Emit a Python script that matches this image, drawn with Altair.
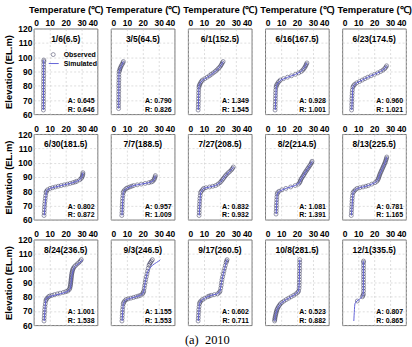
import altair as alt
import pandas as pd

# ---------------- data ----------------
DATES = ["1/6(6.5)", "3/5(64.5)", "6/1(152.5)", "6/16(167.5)", "6/23(174.5)",
         "6/30(181.5)", "7/7(188.5)", "7/27(208.5)", "8/2(214.5)", "8/13(225.5)",
         "8/24(236.5)", "9/3(246.5)", "9/17(260.5)", "10/8(281.5)", "12/1(335.5)"]
A_VALS = ["0.645", "0.790", "1.349", "0.928", "0.960", "0.802", "0.957", "0.832",
          "1.081", "0.781", "1.001", "1.155", "0.602", "0.523", "0.807"]
R_VALS = ["0.646", "0.826", "1.545", "1.001", "1.021", "0.872", "1.009", "0.932",
          "1.391", "1.165", "1.538", "1.553", "0.711", "0.882", "0.865"]
TEMP_TICKS = [0, 10, 20, 30, 40]
ELEV_TICKS = [60, 70, 80, 90, 100, 110, 120]

OBS_ELEV_01 = [63, 65, 67, 69, 71, 73, 75, 77, 79, 81, 83, 85, 87, 89, 91, 93, 95, 97, 98]
OBS_TEMP_01 = [6.0, 6.0, 6.0, 6.1, 6.0, 6.0, 6.1, 6.1, 6.0, 6.1, 6.1, 6.1, 6.2, 6.1, 6.2, 6.2, 6.2, 6.3, 6.3]
SIM_ELEV_01 = [63, 80, 98]
SIM_TEMP_01 = [6.0, 6.1, 6.2]

OBS_ELEV_02 = [64, 66, 68, 70, 72, 74, 76, 78, 80, 82, 84, 86, 88, 90, 91, 92, 93, 94, 95, 96, 97]
OBS_TEMP_02 = [4.8, 4.8, 4.8, 4.8, 4.9, 4.8, 4.9, 4.9, 4.9, 4.9, 5.0, 5.0, 5.0, 5.2, 5.5, 5.7, 6.1, 6.5, 7.0, 7.5, 7.8]
SIM_ELEV_02 = [64, 88, 90, 92, 94, 96, 97]
SIM_TEMP_02 = [4.9, 5.0, 5.2, 5.8, 6.6, 7.4, 7.8]

OBS_ELEV_03 = [63, 65, 67, 69, 71, 73, 75, 77, 79, 80, 81, 82, 83, 84, 85, 86, 87, 88, 89, 90, 91, 92, 93, 94, 95, 96, 97]
OBS_TEMP_03 = [6.3, 6.4, 6.4, 6.5, 6.5, 6.6, 6.6, 6.7, 6.8, 7.0, 7.3, 7.8, 8.3, 9.0, 10.5, 12.0, 13.4, 14.6, 15.8, 17.0, 18.0, 18.9, 19.8, 20.5, 21.0, 21.5, 22.0]
SIM_ELEV_03 = [63, 79, 81, 83, 84, 86, 88, 90, 92, 94, 96, 97]
SIM_TEMP_03 = [6.4, 6.8, 7.2, 8.2, 9.2, 12.2, 14.8, 17.0, 19.0, 20.5, 21.5, 22.0]

OBS_ELEV_04 = [63, 65, 67, 69, 71, 73, 75, 77, 79, 80, 81, 82, 83, 84, 85, 86, 87, 88, 89, 90, 91, 92, 93, 94, 95, 96]
OBS_TEMP_04 = [6.2, 6.3, 6.3, 6.4, 6.4, 6.5, 6.5, 6.6, 6.8, 7.0, 7.4, 8.0, 8.6, 9.5, 11.5, 14.0, 16.5, 19.0, 21.0, 22.6, 23.6, 24.3, 24.9, 25.4, 25.8, 26.2]
SIM_ELEV_04 = [63, 80, 82, 84, 86, 88, 90, 92, 94, 96]
SIM_TEMP_04 = [6.3, 7.0, 8.0, 9.8, 14.2, 19.0, 22.4, 24.2, 25.3, 26.0]

OBS_ELEV_05 = [63, 65, 67, 69, 71, 73, 75, 77, 79, 80, 81, 82, 83, 84, 85, 86, 87, 88, 89, 90, 91, 92, 93, 94]
OBS_TEMP_05 = [5.8, 5.9, 5.9, 6.0, 6.0, 6.1, 6.2, 6.3, 6.6, 7.0, 7.8, 9.0, 10.8, 12.5, 14.2, 16.0, 18.0, 20.2, 22.3, 24.0, 25.5, 26.6, 27.3, 27.8]
SIM_ELEV_05 = [63, 79, 81, 82, 84, 86, 88, 90, 92, 94]
SIM_TEMP_05 = [5.9, 6.6, 7.8, 9.0, 12.5, 16.0, 20.2, 24.0, 26.6, 27.8]

OBS_ELEV_06 = [63, 65, 67, 69, 71, 73, 75, 77, 79, 80, 81, 82, 82.5, 83, 83.5, 84, 84.5, 85, 85.5, 86, 86.5, 87, 88, 89, 90, 91, 92, 93]
OBS_TEMP_06 = [6.4, 6.5, 6.6, 6.7, 6.8, 7.0, 7.2, 7.4, 7.7, 7.9, 8.6, 10.2, 11.8, 13.5, 15.3, 17.2, 19.1, 21.0, 22.8, 24.5, 25.9, 27.0, 28.8, 29.8, 30.3, 30.6, 30.8, 30.8]
SIM_ELEV_06 = [63, 80, 81, 82, 83, 84, 85, 86, 87, 88, 90, 93]
SIM_TEMP_06 = [6.5, 7.9, 8.6, 10.2, 13.5, 17.2, 21.0, 24.5, 27.0, 28.8, 30.3, 30.8]

OBS_ELEV_07 = [63, 65, 67, 69, 71, 73, 75, 77, 79, 80, 81, 82, 82.5, 83, 83.5, 84, 84.5, 85, 85.5, 86, 86.5, 87, 88, 89, 90, 91]
OBS_TEMP_07 = [6.8, 6.9, 7.0, 7.0, 7.1, 7.2, 7.3, 7.5, 7.7, 8.0, 8.7, 9.7, 10.6, 11.8, 13.0, 14.2, 16.5, 19.0, 21.5, 23.8, 25.3, 26.2, 27.0, 27.4, 27.7, 27.9]
SIM_ELEV_07 = [63, 79, 80, 82, 83, 84, 85, 86, 87, 88, 90, 91]
SIM_TEMP_07 = [6.9, 7.7, 8.0, 9.7, 11.8, 14.2, 19.0, 23.8, 26.2, 27.0, 27.7, 27.9]

OBS_ELEV_08 = [63, 65, 67, 69, 71, 73, 75, 77, 79, 80, 81, 82, 82.5, 83, 83.5, 84, 85, 86, 87, 88, 89, 90, 91, 92, 93, 94, 95, 96, 97]
OBS_TEMP_08 = [6.9, 7.0, 7.0, 7.1, 7.2, 7.3, 7.4, 7.6, 7.8, 8.3, 9.0, 9.8, 11.2, 13.5, 15.5, 17.3, 18.8, 20.0, 20.8, 21.5, 22.2, 22.9, 23.6, 24.4, 25.3, 26.3, 27.2, 27.9, 28.4]
SIM_ELEV_08 = [63, 79, 81, 82, 83, 84, 86, 88, 90, 92, 94, 96, 97]
SIM_TEMP_08 = [7.0, 7.8, 9.0, 9.8, 13.5, 17.3, 20.0, 21.5, 22.9, 24.4, 26.3, 27.9, 28.4]

OBS_ELEV_09 = [64, 66, 68, 70, 72, 74, 76, 78, 79, 80, 81, 82, 83, 84, 85, 86, 87, 88, 89, 90, 91, 92, 93, 94, 95, 96, 97, 98, 99, 100, 101]
OBS_TEMP_09 = [6.8, 6.9, 7.0, 7.0, 7.1, 7.2, 7.3, 7.5, 7.8, 8.7, 10.5, 13.0, 16.0, 18.8, 20.8, 21.6, 22.0, 22.3, 22.8, 23.4, 24.0, 24.5, 25.0, 25.6, 26.2, 26.8, 27.4, 28.0, 28.6, 29.1, 29.4]
SIM_ELEV_09 = [64, 78, 80, 82, 84, 86, 88, 90, 92, 94, 96, 98, 100, 101]
SIM_TEMP_09 = [6.9, 7.5, 8.7, 13.0, 18.8, 21.6, 22.3, 23.4, 24.5, 25.6, 26.8, 28.0, 29.1, 29.4]

OBS_ELEV_10 = [63, 65, 67, 69, 71, 73, 75, 77, 79, 80, 81, 82, 82.5, 83, 83.5, 84, 85, 86, 87, 88, 89, 90, 91, 92, 93, 94, 95, 96, 97, 98, 99, 100, 101, 102, 103, 104]
OBS_TEMP_10 = [5.6, 5.7, 5.8, 5.9, 6.0, 6.1, 6.2, 6.4, 6.7, 7.3, 8.2, 9.3, 11.0, 13.0, 14.8, 16.3, 18.5, 20.5, 21.7, 22.3, 22.7, 23.0, 23.3, 23.6, 24.0, 24.4, 24.8, 25.2, 25.6, 26.0, 26.4, 26.8, 27.1, 27.4, 27.7, 27.9]
SIM_ELEV_10 = [63, 79, 81, 82, 83, 84, 86, 88, 90, 92, 94, 96, 98, 100, 102, 104]
SIM_TEMP_10 = [5.7, 6.7, 8.2, 9.3, 13.0, 16.3, 20.5, 22.3, 23.0, 23.6, 24.4, 25.2, 26.0, 26.8, 27.4, 27.9]

OBS_ELEV_11 = [63, 65, 67, 69, 71, 73, 75, 77, 78, 79, 80, 80.5, 81, 81.5, 82, 82.5, 83, 83.5, 84, 85, 86, 87, 88, 89, 90, 91, 92, 93, 94, 95, 96, 97, 98, 99, 100, 101, 102, 103, 104, 105, 106]
OBS_TEMP_11 = [6.4, 6.5, 6.6, 6.7, 6.8, 7.0, 7.2, 7.5, 7.8, 8.3, 9.2, 10.0, 11.5, 13.0, 14.8, 16.5, 18.5, 20.0, 21.3, 22.2, 22.6, 22.8, 23.0, 23.1, 23.2, 23.3, 23.4, 23.5, 23.6, 23.7, 23.8, 24.0, 24.2, 24.4, 24.8, 25.4, 26.3, 27.3, 28.3, 29.2, 29.8]
SIM_ELEV_11 = [63, 77, 79, 80, 81, 82, 83, 84, 85, 86, 90, 95, 100, 101, 102, 103, 104, 105, 106]
SIM_TEMP_11 = [6.5, 7.4, 8.0, 9.5, 13.0, 16.5, 19.5, 21.5, 22.5, 23.0, 23.4, 23.9, 25.0, 25.6, 26.5, 27.8, 29.0, 30.0, 30.6]

OBS_ELEV_12 = [63, 65, 67, 69, 71, 73, 75, 76, 77, 78, 78.5, 79, 79.5, 80, 80.5, 81, 82, 83, 84, 86, 88, 90, 92, 94, 96, 98, 100, 102, 103, 104, 105, 106]
OBS_TEMP_12 = [6.9, 7.0, 7.1, 7.2, 7.3, 7.5, 7.7, 8.0, 8.6, 9.5, 10.8, 12.5, 14.2, 15.8, 17.2, 18.5, 19.8, 20.3, 20.6, 20.9, 21.2, 21.5, 21.8, 22.2, 22.6, 23.0, 23.4, 23.9, 24.3, 24.8, 25.4, 26.0]
SIM_ELEV_12 = [63, 75, 77, 78, 79, 80, 81, 82, 84, 90, 96, 98, 100, 102, 103, 104, 105, 106]
SIM_TEMP_12 = [7.0, 7.7, 8.6, 9.5, 12.5, 15.8, 18.5, 19.8, 20.6, 21.5, 22.6, 23.3, 24.4, 26.0, 27.2, 28.6, 30.0, 31.0]

OBS_ELEV_13 = [63, 65, 67, 69, 71, 73, 75, 76, 77, 78, 79, 80, 80.5, 81, 81.5, 82, 83, 84, 86, 88, 90, 92, 94, 96, 98, 100, 102, 104, 105, 106]
OBS_TEMP_13 = [6.3, 6.4, 6.5, 6.6, 6.7, 6.9, 7.1, 7.4, 8.0, 9.0, 10.5, 12.3, 13.3, 14.5, 16.5, 18.5, 19.6, 20.1, 20.5, 20.8, 21.0, 21.3, 21.7, 22.1, 22.5, 23.0, 23.4, 23.9, 24.2, 24.5]
SIM_ELEV_13 = [63, 75, 77, 78, 79, 80, 81, 82, 84, 90, 96, 100, 104, 106]
SIM_TEMP_13 = [6.4, 7.1, 8.0, 9.0, 10.5, 12.3, 14.5, 18.5, 20.1, 21.0, 22.1, 23.0, 23.9, 24.5]

OBS_ELEV_14 = [63, 64, 65, 66, 67, 68, 69, 70, 71, 72, 73, 74, 75, 76, 77, 78, 79, 80, 81, 82, 83, 84, 86, 88, 90, 92, 94, 96, 98, 100, 102, 104, 106]
OBS_TEMP_14 = [5.9, 6.0, 6.1, 6.3, 6.5, 6.7, 6.9, 7.1, 7.4, 7.8, 8.3, 8.9, 9.5, 10.5, 11.8, 13.2, 14.8, 16.3, 17.9, 19.3, 20.4, 21.0, 21.3, 21.4, 21.4, 21.5, 21.5, 21.5, 21.6, 21.6, 21.6, 21.7, 21.7]
SIM_ELEV_14 = [63, 67, 71, 74, 76, 78, 80, 82, 84, 90, 100, 106]
SIM_TEMP_14 = [6.0, 6.5, 7.4, 8.9, 10.5, 13.2, 16.3, 19.3, 21.0, 21.4, 21.6, 21.7]

OBS_ELEV_15 = [77, 80, 81, 82, 84, 86, 88, 90, 92, 94, 96, 98, 100, 102, 104, 105]
OBS_TEMP_15 = [9.4, 12.6, 13.0, 13.2, 13.3, 13.3, 13.3, 13.3, 13.3, 13.3, 13.3, 13.3, 13.3, 13.3, 13.3, 13.3]
SIM_ELEV_15 = [63, 65, 67, 69, 71, 73, 75, 76, 77, 78, 79, 80, 81, 82, 84, 105]
SIM_TEMP_15 = [7.2, 7.3, 7.4, 7.5, 7.6, 7.7, 7.9, 8.3, 9.2, 10.4, 11.6, 12.4, 12.9, 13.1, 13.2, 13.2]

OBS_ELEV = [OBS_ELEV_01, OBS_ELEV_02, OBS_ELEV_03, OBS_ELEV_04, OBS_ELEV_05,
            OBS_ELEV_06, OBS_ELEV_07, OBS_ELEV_08, OBS_ELEV_09, OBS_ELEV_10,
            OBS_ELEV_11, OBS_ELEV_12, OBS_ELEV_13, OBS_ELEV_14, OBS_ELEV_15]
OBS_TEMP = [OBS_TEMP_01, OBS_TEMP_02, OBS_TEMP_03, OBS_TEMP_04, OBS_TEMP_05,
            OBS_TEMP_06, OBS_TEMP_07, OBS_TEMP_08, OBS_TEMP_09, OBS_TEMP_10,
            OBS_TEMP_11, OBS_TEMP_12, OBS_TEMP_13, OBS_TEMP_14, OBS_TEMP_15]
SIM_ELEV = [SIM_ELEV_01, SIM_ELEV_02, SIM_ELEV_03, SIM_ELEV_04, SIM_ELEV_05,
            SIM_ELEV_06, SIM_ELEV_07, SIM_ELEV_08, SIM_ELEV_09, SIM_ELEV_10,
            SIM_ELEV_11, SIM_ELEV_12, SIM_ELEV_13, SIM_ELEV_14, SIM_ELEV_15]
SIM_TEMP = [SIM_TEMP_01, SIM_TEMP_02, SIM_TEMP_03, SIM_TEMP_04, SIM_TEMP_05,
            SIM_TEMP_06, SIM_TEMP_07, SIM_TEMP_08, SIM_TEMP_09, SIM_TEMP_10,
            SIM_TEMP_11, SIM_TEMP_12, SIM_TEMP_13, SIM_TEMP_14, SIM_TEMP_15]

# ---------------- style ----------------
W, H = 64, 86
FONT = "Liberation Sans"
OBS_COLOR = "#2c2c52"
SIM_COLOR = "#6464d8"


def text_layer(txt, x, y, size, align="center", weight="bold"):
    return alt.Chart(pd.DataFrame({"t": [txt]})).mark_text(
        font=FONT, fontSize=size, fontWeight=weight, align=align,
        baseline="middle", color="black"
    ).encode(x=alt.value(x), y=alt.value(y), text="t:N")


def make_panel(k):
    row, col = divmod(k, 5)
    obs = pd.DataFrame({"elev": OBS_ELEV[k], "temp": OBS_TEMP[k]})
    sim = pd.DataFrame({"elev": SIM_ELEV[k], "temp": SIM_TEMP[k]})

    if row == 0:
        xaxis = alt.Axis(orient="top", values=TEMP_TICKS, title="Temperature (\u2103)")
    else:
        xaxis = alt.Axis(orient="top", values=TEMP_TICKS, title=None)
    if col == 0:
        yaxis = alt.Axis(values=ELEV_TICKS, title="Elevation (EL.m)")
    else:
        yaxis = alt.Axis(values=ELEV_TICKS, labels=False, title=None)

    x = alt.X("temp:Q", scale=alt.Scale(domain=[0, 40], nice=False, zero=False), axis=xaxis)
    y = alt.Y("elev:Q", scale=alt.Scale(domain=[60, 120], nice=False, zero=False), axis=yaxis)

    pts = alt.Chart(obs).mark_point(
        shape="circle", filled=False, size=16, strokeWidth=0.7, color=OBS_COLOR
    ).encode(x=x, y=y)
    line = alt.Chart(sim).mark_line(color=SIM_COLOR, strokeWidth=1).encode(
        x=x, y=y, order=alt.Order("elev:Q")
    )
    layers = [pts, line,
              text_layer(DATES[k], W / 2, 10, 8.5),
              text_layer("A: " + A_VALS[k], W - 3, 73, 7, align="right"),
              text_layer("R: " + R_VALS[k], W - 3, 81.5, 7, align="right")]
    if k == 0:
        leg_pt = alt.Chart(pd.DataFrame({"t": ["Observed"]})).mark_point(
            shape="circle", filled=False, size=16, strokeWidth=0.7, color=OBS_COLOR
        ).encode(x=alt.value(19.5), y=alt.value(26))
        leg_ln = alt.Chart(pd.DataFrame({"t": ["Simulated"]})).mark_rule(
            color=SIM_COLOR, strokeWidth=1
        ).encode(x=alt.value(15), x2=alt.value(25), y=alt.value(35))
        layers += [leg_pt, leg_ln,
                   text_layer("Observed", 30, 26, 7, align="left"),
                   text_layer("Simulated", 30, 35, 7, align="left")]
    return alt.layer(*layers).properties(width=W, height=H)


panels = [make_panel(k) for k in range(15)]

chart = alt.concat(
    *panels, columns=5, bounds="flush", spacing={"row": 20, "column": 13.5}
).properties(
    title=alt.TitleParams(
        text="(a)\u00a0 2010", orient="bottom", anchor="middle",
        font="Liberation Serif", fontSize=12.5, fontWeight="normal",
        color="black", offset=4
    ),
    padding={"left": 2, "top": 3, "right": 0, "bottom": 0},
).configure_view(
    stroke="#555555", strokeWidth=0.8
).configure_axis(
    labelFont=FONT, labelFontSize=8.5, labelFontWeight="bold", labelColor="black",
    titleFont=FONT, titleFontSize=9.5, titleFontWeight="bold", titleColor="black",
    domain=False, ticks=False, labelPadding=1,
    grid=True, gridColor="#c8c8c8", gridDash=[2, 2], gridWidth=0.6
).configure_axisX(
    titlePadding=4
).configure_axisY(
    titlePadding=4.5, labelPadding=2
)

chart.save("out.html", embed_options={"renderer": "svg", "actions": False})
